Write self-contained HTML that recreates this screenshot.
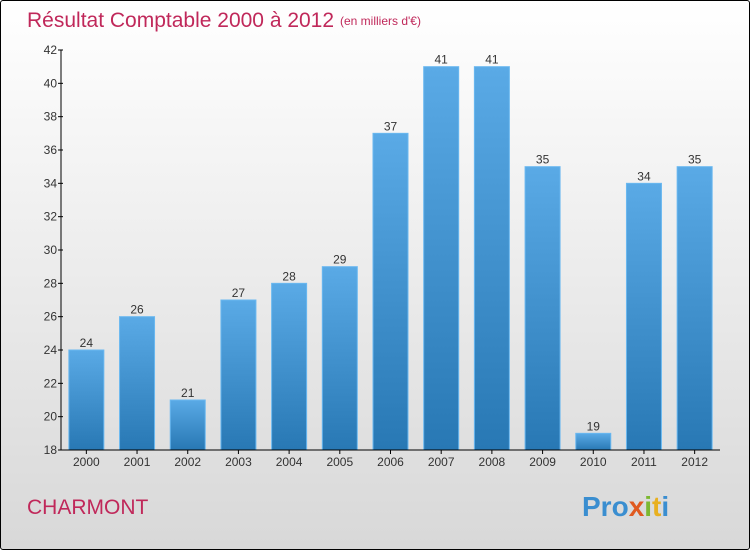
<!DOCTYPE html>
<html><head><meta charset="utf-8"><style>
body{margin:0;width:750px;height:550px;overflow:hidden;font-family:"Liberation Sans",sans-serif}
#frame{position:absolute;left:0;top:0;width:748px;height:548px;border:1px solid #000;border-radius:3px;background:linear-gradient(#fff,#d8d8d8)}
</style></head><body>
<div id="frame">
<svg width="750" height="550" style="position:absolute;left:-1px;top:-1px">
<defs><linearGradient id="bg" x1="0" y1="0" x2="0" y2="1"><stop offset="0" stop-color="#5aaae6"/><stop offset="1" stop-color="#2878b4"/></linearGradient></defs>
<text x="27" y="27" font-size="21" fill="#c0285a">Résultat Comptable 2000 à 2012</text>
<text x="340" y="25" font-size="12" fill="#c0285a">(en milliers d'€)</text>
<text x="27" y="514" font-size="21" fill="#c0285a">CHARMONT</text>
<g font-size="28" font-weight="bold">
<text x="582" y="516"><tspan fill="#3a8ed0">Pro</tspan><tspan fill="#e05a20">x</tspan><tspan fill="#7cb830">i</tspan><tspan fill="#e8b020">t</tspan><tspan fill="#3a8ed0">i</tspan></text></g>
<g id="plot"></g>
</svg></div>
<script>
const categories=["2000","2001","2002","2003","2004","2005","2006","2007","2008","2009","2010","2011","2012"];
const values=[24,26,21,27,28,29,37,41,41,35,19,34,35];
const yTicks=[18,20,22,24,26,28,30,32,34,36,38,40,42];
const x0=61,x1=720,yTop=50,yBot=450,vMin=18,vMax=42;
const band=(x1-x0)/categories.length,bw=35;
const y=v=>yBot-(v-vMin)/(vMax-vMin)*(yBot-yTop);
const xc=i=>x0+band*(i+0.5);
const g=document.getElementById('plot');const NS='http://www.w3.org/2000/svg';
function mk(t,a,txt){const e=document.createElementNS(NS,t);for(const k in a)e.setAttribute(k,a[k]);if(txt!=null)e.textContent=txt;g.appendChild(e);return e;}
values.forEach((v,i)=>{
const r=mk('rect',{x:xc(i)-bw/2,y:y(v),width:bw,height:yBot-y(v),fill:'url(#bg)',stroke:'#6ab8f0','stroke-width':1});


const t=mk('text',{x:xc(i),y:y(v)-3,'font-size':12,fill:'#333','text-anchor':'middle'},String(v));


const c=mk('text',{x:xc(i),y:466,'font-size':12,fill:'#333','text-anchor':'middle'},categories[i]);


mk('line',{x1:xc(i),x2:xc(i),y1:yBot,y2:yBot+4,stroke:'#000'});
});
yTicks.forEach(v=>{
mk('line',{x1:x0-3,x2:x0+2,y1:y(v),y2:y(v),stroke:'#000'});
const t=mk('text',{x:x0-4,y:y(v)+4,'font-size':12,fill:'#333','text-anchor':'end'},String(v));


});
const ya=mk('line',{x1:x0,x2:x0,y1:yTop,y2:yBot,stroke:'#000'});


const xa=mk('line',{x1:x0,x2:x1,y1:yBot,y2:yBot,stroke:'#000'});


</script>
</body></html>
